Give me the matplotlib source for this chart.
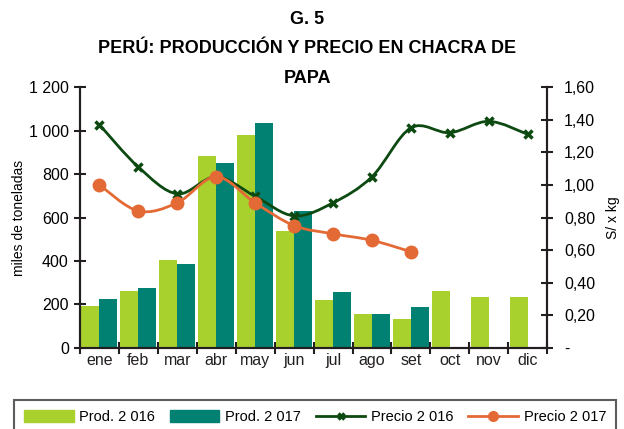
import numpy as np
import matplotlib
matplotlib.use("Agg")
import matplotlib.pyplot as plt
from matplotlib.path import Path
from matplotlib.patches import PathPatch
from matplotlib.lines import Line2D
from matplotlib.patches import Patch

plt.rcParams['font.family'] = ['Liberation Sans', 'DejaVu Sans']

# data
meses = ['ene', 'feb', 'mar', 'abr', 'may', 'jun', 'jul', 'ago', 'set', 'oct', 'nov', 'dic']
prod_2016 = [192, 262, 405, 885, 981, 538, 220, 155, 132, 262, 234, 234]
prod_2017 = [225, 275, 386, 852, 1037, 631, 257, 155, 188]
precio_2016 = [1.37, 1.11, 0.945, 1.05, 0.93, 0.81, 0.89, 1.05, 1.35, 1.32, 1.39, 1.31]
precio_2017 = [1.00, 0.84, 0.89, 1.05, 0.89, 0.75, 0.70, 0.66, 0.59]

c_p16 = '#a8d12e'
c_p17 = '#008171'
c_pr16 = '#0d4a12'
c_pr17 = '#e46a35'
c_axis = '#231f20'


def smooth_path(xs, ys):
    # Catmull-Rom like bezier segments (similar to Excel "smoothed line")
    pts = np.column_stack([xs, ys]).astype(float)
    verts = [pts[0]]
    codes = [Path.MOVETO]
    n = len(pts)
    for i in range(n - 1):
        p0 = pts[max(i - 1, 0)]
        p1 = pts[i]
        p2 = pts[i + 1]
        p3 = pts[min(i + 2, n - 1)]
        c1 = p1 + (p2 - p0) / 6.0
        c2 = p2 - (p3 - p1) / 6.0
        verts += [c1, c2, p2]
        codes += [Path.CURVE4] * 3
    return Path(verts, codes)


fig = plt.figure(figsize=(6.24, 4.29), dpi=100)
ax = fig.add_axes([0.128, 0.189, 0.749, 0.608])
ax2 = ax.twinx()

x = np.arange(len(meses))
w = 0.46
ax.bar(x - w / 2, prod_2016, width=w, color=c_p16, zorder=2)
ax.bar(x[:len(prod_2017)] + w / 2, prod_2017, width=w, color=c_p17, zorder=2)

ax.set_xlim(-0.5, 11.5)
ax.set_ylim(0, 1200)
ax.set_yticks(range(0, 1201, 200))
ax.set_yticklabels(['0', '200', '400', '600', '800', '1 000', '1 200'])
ax.set_xticks(x)
ax.set_xticklabels(meses)
ax.set_xticks(np.arange(-0.5, 12, 1), minor=True)
ax.tick_params(axis='x', which='major', length=0, labelsize=11.5, pad=4, colors='#231f20')
ax.tick_params(axis='x', which='minor', length=8, width=1.5, direction='inout', color=c_axis)
ax.tick_params(axis='y', length=8, width=1.5, direction='inout', labelsize=11.5, color=c_axis, pad=4)
ax.set_ylabel('miles de toneladas', fontsize=10, labelpad=2)

ax2.set_ylim(0, 1.6)
ax2.set_yticks(np.arange(0, 1.61, 0.2))
ax2.set_yticklabels(['-'] + [('%.2f' % v).replace('.', ',') for v in np.arange(0.2, 1.61, 0.2)])
ax2.tick_params(axis='y', length=8, width=1.5, direction='inout', labelsize=11.5, color=c_axis, pad=8)
ax2.set_ylabel('S/ x kg', fontsize=10, labelpad=8)

for a in (ax, ax2):
    a.spines['top'].set_visible(False)
    for s in ['left', 'right', 'bottom']:
        a.spines[s].set_linewidth(1.5)
        a.spines[s].set_color(c_axis)

ax2.add_patch(PathPatch(smooth_path(x, precio_2016), fill=False, ec=c_pr16, lw=2, zorder=3))
ax2.plot(x, precio_2016, ls='none', marker='x', ms=6, mew=2.5, color=c_pr16, zorder=4)
x17 = x[:len(precio_2017)]
ax2.add_patch(PathPatch(smooth_path(x17, precio_2017), fill=False, ec=c_pr17, lw=2, zorder=3))
ax2.plot(x17, precio_2017, ls='none', marker='o', ms=9, color=c_pr17, zorder=4)

fig.text(0.492, 0.955, 'G. 5', ha='center', va='center', fontsize=13, fontweight='bold')
fig.text(0.492, 0.888, 'PERÚ: PRODUCCIÓN Y PRECIO EN CHACRA DE', ha='center', va='center',
         fontsize=13, fontweight='bold')
fig.text(0.492, 0.818, 'PAPA', ha='center', va='center', fontsize=13, fontweight='bold')

handles = [Patch(color=c_p16), Patch(color=c_p17),
           Line2D([], [], color=c_pr16, lw=2, marker='x', ms=5, mew=2.5),
           Line2D([], [], color=c_pr17, lw=2, marker='o', ms=7)]
labels = ['Prod. 2 016', 'Prod. 2 017', 'Precio 2 016', 'Precio 2 017']
leg = fig.legend(handles, labels, loc='upper center', bbox_to_anchor=(0.505, 0.068), ncol=4,
                 fontsize=10.5, frameon=True, fancybox=False, edgecolor='#333333',
                 handlelength=3.4, handleheight=0.9, columnspacing=1.0, handletextpad=0.4,
                 borderpad=0.7, borderaxespad=0)
leg.get_frame().set_linewidth(1.5)

fig.savefig('out.png', dpi=100)
